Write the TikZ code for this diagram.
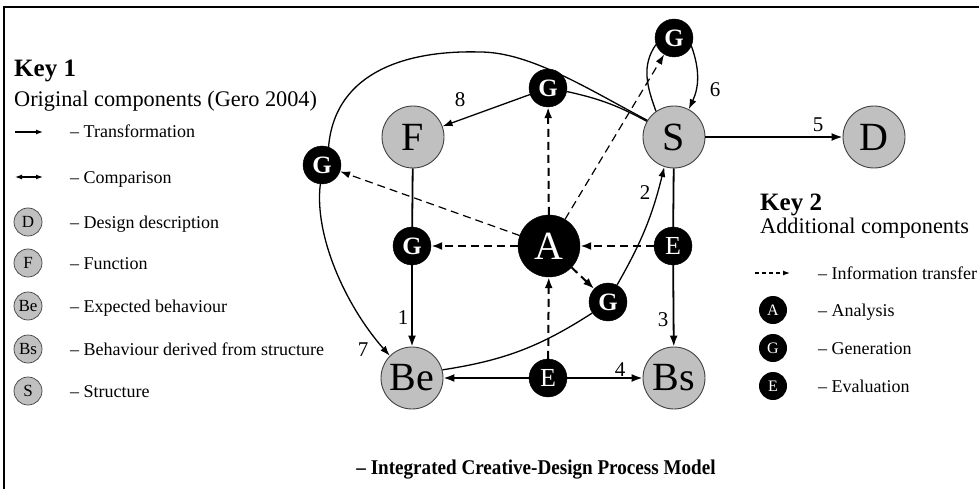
\documentclass[tikz,border=0pt]{standalone}
\usepackage{fontspec}
\setmainfont{Liberation Serif}
\usetikzlibrary{arrows.meta}
\definecolor{cgray}{RGB}{192,192,192}
\begin{document}
\begin{tikzpicture}[x=1pt,y=1pt,
  big/.style={circle,draw=black!75,line width=0.9pt,fill=cgray,minimum size=62pt,inner sep=0pt,font=\fontsize{40}{40}\selectfont},
  blk/.style={circle,fill=black,draw=black,minimum size=38pt,inner sep=0pt,text=white,font=\fontsize{25}{25}\selectfont\bfseries},
  blkE/.style={blk,font=\fontsize{26}{26}\selectfont},
  blkA/.style={blk,minimum size=62pt,font=\fontsize{40}{40}\selectfont},
  con/.style={line width=1.8pt},
  arr/.style={con,-{Latex[length=11pt,width=8pt]}},
  crv/.style={line width=1.3pt},
  crvarr/.style={crv,-{Latex[length=10pt,width=7pt]}},
  dthick/.style={line width=2pt,dash pattern=on 8pt off 5pt,-{Latex[length=11pt,width=8pt]}},
  dthin/.style={line width=1.2pt,dash pattern=on 8pt off 5pt,-{Latex[length=10pt,width=7pt]}},
  num/.style={font=\fontsize{21}{21}\selectfont,inner sep=0pt},
  lgc/.style={circle,draw=black!75,line width=0.7pt,fill=cgray,minimum size=28pt,inner sep=0pt,font=\fontsize{17}{17}\selectfont},
  lgb/.style={circle,fill=black,minimum size=28pt,inner sep=0pt,text=white,font=\fontsize{16}{16}\selectfont},
  lgt/.style={anchor=base west,inner sep=0pt,font=\fontsize{18}{18}\selectfont},
  ttl/.style={anchor=base west,inner sep=0pt,font=\fontsize{25}{25}\selectfont\bfseries},
  sub/.style={anchor=base west,inner sep=0pt,font=\fontsize{22.3}{22.3}\selectfont}
]
\useasboundingbox (0,0) rectangle (979,-489);
% frame
\coordinate (fbl) at (4,-489);
\coordinate (ftl) at (4,-7);
\coordinate (ftr) at (979,-7);
\draw[line width=2pt] (fbl) -- (ftl) -- (ftr);

% main nodes
\node[big] (F) at (413,-137) {F};
\node[big] (S) at (674,-137) {S};
\node[big] (D) at (874,-137) {D};
\node[big] (Be) at (412,-378) {Be};
\node[big] (Bs) at (674,-378) {Bs};
\node[blkA] (A) at (549,-246) {A};
\node[blk] (Gm) at (548,-88) {G};
\node[blk] (Gt) at (674,-38) {G};
\node[blk] (Gl) at (322,-165) {G};
\node[blk] (G2) at (412,-246) {G};
\node[blk] (Glr) at (608,-302) {G};
\node[blkE] (E1) at (673,-246) {E};
\node[blkE] (E2) at (548,-378) {E};

% solid connectors
\draw[con] (F) -- (G2);
\draw[arr] (G2) -- (Be);
\draw[con] (S) -- (E1);
\draw[arr] (E1) -- (Bs);
\draw[arr] (E2) -- (Be);
\draw[arr] (E2) -- (Bs);
\draw[arr] (S) -- (D);
\draw[crvarr] (Gm) -- (F);
\draw[crv] (Gm) to[bend left=8] (S.150);
\draw[crv] (S.125) to[out=110,in=235] (Gt.200);
\draw[crvarr] (Gt.-25) to[out=-70,in=65] (S.62);
\coordinate (peak) at (480,-52);
\draw[crv] (S.148) .. controls (588,-89) and (530,-52) .. (peak)
  .. controls (410,-50) and (335,-70) .. (Gl.70);
\draw[crvarr] (Gl.265) .. controls (314,-235) and (345,-305) .. (Be.135);
\draw[crv] (Be.15) to[bend right=12] (Glr.215);
\draw[crvarr] (Glr.62) to[bend right=8] (S.252);

% dashed
\draw[dthick] (A) -- (Gm);
\draw[dthick] (A) -- (G2);
\draw[dthick] (E1) -- (A);
\draw[dthick] (E2) -- (A);
\draw[dthick] (A) -- (Glr);
\draw[dthin] (A) -- (Gt);
\draw[dthin] (A) -- (Gl);

% numbers
\node[num] (n1) at (403,-318) {1};
\node[num] (n2) at (645,-193) {2};
\node[num] (n3) at (663,-320) {3};
\node[num] (n4) at (620,-370) {4};
\node[num] (n5) at (818,-125) {5};
\node[num] (n6) at (715,-90) {6};
\node[num] (n7) at (363,-350) {7};
\node[num] (n8) at (460,-100) {8};

% Key 1
\node[ttl] (k1) at (14,-77) {Key 1};
\node[sub] (k1s) at (14,-107) {Original components (Gero 2004)};
\coordinate (ta1) at (15,-132); \coordinate (ta2) at (43,-132);
\draw[line width=1.2pt,-{Latex[length=7pt,width=5pt]}] (ta1) -- (ta2);
\coordinate (ca1) at (15,-177); \coordinate (ca2) at (43,-177);
\draw[line width=1.2pt,{Latex[length=7pt,width=5pt]}-{Latex[length=7pt,width=5pt]}] (ca1) -- (ca2);
\node[lgc] (lD) at (28,-222) {D};
\node[lgc] (lF) at (28,-263) {F};
\node[lgc] (lBe) at (28,-306) {Be};
\node[lgc] (lBs) at (28,-349) {Bs};
\node[lgc] (lS) at (28,-391) {S};
\node[lgt] (t1) at (70,-138) {– Transformation};
\node[lgt] (t2) at (70,-183) {– Comparison};
\node[lgt] (t3) at (70,-228) {– Design description};
\node[lgt] (t4) at (70,-269) {– Function};
\node[lgt] (t5) at (70,-312) {– Expected behaviour};
\node[lgt] (t6) at (70,-355) {– Behaviour derived from structure};
\node[lgt] (t7) at (70,-397) {– Structure};

% Key 2
\node[ttl] (k2) at (760,-210) {Key 2};
\node[sub] (k2s) at (760,-233) {Additional components};
\coordinate (da1) at (755,-273); \coordinate (da2) at (790,-273);
\draw[line width=1.2pt,dash pattern=on 4pt off 3pt,-{Latex[length=7pt,width=5pt]}] (da1) -- (da2);
\node[lgb] (lA) at (773,-310) {A};
\node[lgb] (lG) at (773,-348) {G};
\node[lgb] (lE) at (773,-386) {E};
\node[lgt] (u1) at (818,-279) {– Information transfer};
\node[lgt] (u2) at (818,-316) {– Analysis};
\node[lgt] (u3) at (818,-354) {– Generation};
\node[lgt] (u4) at (818,-392) {– Evaluation};

% caption
\node[anchor=base,inner sep=0pt,xscale=0.91,font=\fontsize{21}{21}\selectfont\bfseries] (cap) at (536,-474) {– Integrated Creative-Design Process Model};
\end{tikzpicture}
\end{document}
